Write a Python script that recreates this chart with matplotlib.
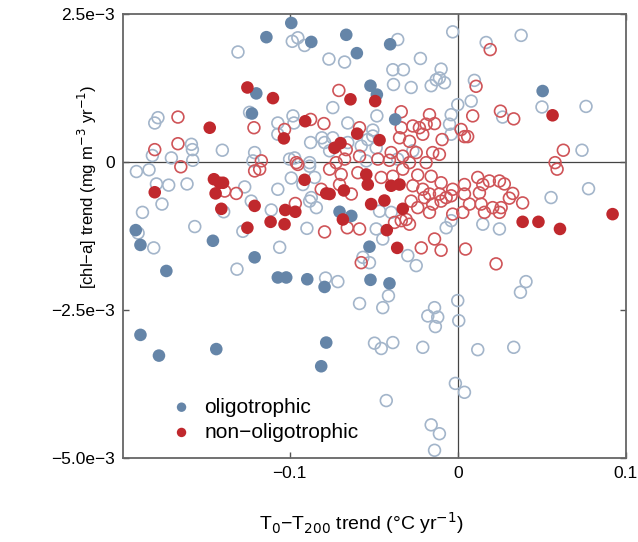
import numpy as np
import matplotlib.pyplot as plt

plt.rcParams['font.family'] = ['Liberation Sans', 'DejaVu Sans']

# oligotrophic, filled (significant) points: x = T0-T200 trend, y = chl-a trend (x1e-3)
olig_fill_x = [-0.0990, -0.1138, -0.0871, -0.0663, -0.0600, -0.1198, -0.1224, -0.0519, -0.0402,
               -0.0481, -0.0372, 0.0505, -0.1915, -0.1887, -0.1456, -0.1733, -0.1208, -0.0703,
               -0.0633, -0.0525, -0.1070, -0.1020, -0.0895, -0.0792, -0.0519, -0.0406, -0.1887,
               -0.1777, -0.1436, -0.0782, -0.0812]
olig_fill_y = [2.35, 2.11, 2.03, 2.15, 1.84, 1.16, 0.82, 1.29, 1.99,
               1.14, 0.72, 1.20, -1.15, -1.40, -1.33, -1.84, -1.61, -0.84,
               -0.91, -1.43, -1.95, -1.95, -1.98, -2.11, -1.99, -2.05, -2.92,
               -3.27, -3.16, -3.05, -3.45]

# oligotrophic, open points
olig_open_x = [-0.1307, -0.1783, -0.1802, -0.1584, -0.1578, -0.1400, -0.1703, -0.1816, -0.1576,
               -0.0984, -0.0951, -0.0911, -0.0766, -0.0673, -0.0743, -0.1238, -0.1070, -0.0980,
               -0.0974, -0.0654, -0.1070, -0.0505, -0.0875, -0.0808, -0.0792, -0.0743, -0.0762,
               -0.0654, -0.0574, -0.0535, -0.1208, -0.1218, -0.1000, -0.0970, -0.0881, -0.0544,
               -0.0357, -0.0030, 0.0169, -0.0222, -0.0386, -0.0323, -0.0099, -0.0382, -0.0277,
               -0.0158, -0.0128, -0.0109, -0.0079, 0.0099, 0.0000, 0.0080, -0.0481, -0.0039,
               -0.0049, -0.0039, -0.0505, -0.0485, -0.0267, -0.0357, 0.0377, 0.0501, 0.0763,
               0.0267, 0.0739, -0.1911, -0.1836, -0.1792, -0.1719, -0.1610, -0.1759, -0.1875,
               -0.1267, -0.1392, -0.1901, -0.1808, -0.1564, -0.1313, -0.1278, -0.0881, -0.0990,
               -0.0851, -0.1070, -0.0921, -0.1228, -0.1109, -0.0881, -0.0841, -0.0871, -0.0897,
               -0.1059, -0.0564, -0.0525, -0.0786, -0.0713, -0.0584, -0.0465, -0.0396, -0.0485,
               -0.0446, 0.0149, -0.0297, -0.0247, -0.0069, -0.0039, -0.0412, -0.0446, -0.0138,
               0.0000, -0.0178, -0.0119, 0.0555, 0.0778, 0.0248, 0.0406, 0.0373, -0.0133,
               0.0006, -0.0495, -0.0455, -0.0386, -0.0208, 0.0119, -0.0014, 0.0040, -0.0425,
               -0.0158, -0.0109, -0.0138, 0.0333]
olig_open_y = [1.86, 0.75, 0.66, 0.30, 0.21, 0.20, 0.07, 0.11, 0.03,
               2.04, 2.10, 1.97, 1.74, 1.69, 0.92, 0.84, 0.66, 0.78,
               0.66, 0.66, 0.47, 0.54, 0.33, 0.41, 0.33, 0.41, 0.19,
               0.33, 0.27, 0.38, 0.16, 0.02, 0.05, 0.07, -0.01, 0.02,
               2.07, 2.20, 2.02, 1.75, 1.56, 1.56, 1.57, 1.31, 1.26,
               1.29, 1.39, 1.42, 1.34, 1.38, 0.97, 1.03, 0.78, 0.80,
               0.64, 0.47, 0.44, 0.24, 0.19, 0.05, 2.14, 0.93, 0.94,
               0.76, 0.20, -0.16, -0.13, -0.37, -0.39, -0.37, -0.71, -0.85,
               -0.42, -0.84, -1.20, -1.45, -1.09, -1.81, -1.17, -0.07, -0.27,
               -0.26, -0.46, -0.38, -0.66, -0.81, -0.66, -0.77, -0.60, -1.12,
               -1.44, -1.61, -1.70, -1.96, -2.02, -2.39, -0.83, -0.85, -1.13,
               -1.30, -1.05, -1.58, -1.75, -1.11, -0.99, -2.26, -2.46, -2.46,
               -2.34, -2.60, -2.62, -0.60, -0.45, -1.13, -2.02, -2.20, -2.78,
               -2.68, -3.06, -3.15, -3.05, -3.13, -3.17, -3.74, -3.89, -4.03,
               -4.44, -4.59, -4.87, -3.13]

# non-oligotrophic, filled points
non_fill_x = [-0.1251, -0.1475, -0.1099, -0.0638, -0.0491, -0.0907, -0.1034, -0.0598, -0.0733,
              -0.0697, -0.0465, 0.0564, -0.1802, -0.1450, -0.1416, -0.1396, -0.1440, -0.1406,
              -0.1251, -0.0911, -0.0782, -0.0762, -0.0677, -0.0544, -0.0535, -0.1208, -0.1026,
              -0.0966, -0.0683, -0.0515, -0.1113, -0.1030, -0.0396, -0.0346, -0.0436, -0.0327,
              -0.0422, -0.0360, 0.0386, 0.0480, 0.0608, 0.0921]
non_fill_y = [1.26, 0.58, 1.08, 1.06, 1.03, 0.69, 0.40, 0.48, 0.24,
              0.32, 0.37, 0.79, -0.51, -0.29, -0.35, -0.35, -0.53, -0.79,
              -1.11, -0.30, -0.53, -0.54, -0.48, -0.21, -0.38, -0.74, -0.81,
              -0.84, -0.97, -0.71, -1.01, -1.05, -0.40, -0.38, -0.65, -0.79,
              -1.15, -1.45, -1.01, -1.01, -1.13, -0.88]

# non-oligotrophic, open points
non_open_x = [-0.1664, -0.1664, -0.1802, -0.1647, -0.0707, -0.1212, -0.0875, -0.0796, -0.1030,
              -0.0584, -0.0663, -0.1168, -0.0960, -0.0723, -0.0673, -0.0584, 0.0193, 0.0109,
              -0.0336, -0.0168, 0.0089, -0.0336, -0.0267, -0.0228, -0.0188, -0.0138, 0.0020,
              0.0040, 0.0059, -0.0208, -0.0093, -0.0346, -0.0287, -0.0247, -0.0149, -0.0109,
              -0.0396, -0.0327, -0.0475, -0.0406, -0.0287, -0.0188, 0.0254, 0.0333, 0.0628,
              0.0579, -0.1386, -0.1317, -0.1208, -0.1178, -0.0951, -0.0812, -0.0703, -0.0633,
              -0.0594, -0.0693, -0.0762, -0.0966, -0.0657, -0.0584, -0.0792, -0.0574, -0.0327,
              -0.0238, -0.0158, -0.0099, -0.0455, -0.0386, -0.0267, -0.0208, -0.0168, -0.0109,
              -0.0030, 0.0040, 0.0040, 0.0119, 0.0149, 0.0188, 0.0129, 0.0070, 0.0139,
              0.0159, 0.0208, -0.0277, -0.0238, -0.0168, -0.0099, -0.0039, -0.0307, -0.0287,
              -0.0376, -0.0336, -0.0030, 0.0030, -0.0069, -0.0198, -0.0149, -0.0217, -0.0138,
              -0.0099, 0.0046, 0.0228, 0.0591, 0.0248, 0.0277, 0.0327, 0.0307, 0.0386,
              0.0258, 0.0248]
non_open_y = [0.76, 0.31, 0.21, -0.08, 1.21, 0.58, 0.72, 0.65, 0.55,
              0.58, 0.21, 0.02, -0.01, -0.01, 0.05, 0.10, 1.90, 1.28,
              0.85, 0.80, 0.78, 0.58, 0.61, 0.58, 0.64, 0.65, 0.55,
              0.43, 0.43, 0.47, 0.38, 0.41, 0.35, 0.16, 0.16, 0.13,
              0.16, 0.10, 0.05, 0.03, -0.01, -0.01, 0.86, 0.73, 0.20,
              -0.01, -0.49, -0.53, -0.15, -0.12, -0.04, -0.46, -0.38, -0.54,
              -0.18, -0.21, -0.12, -0.70, -1.11, -1.13, -1.18, -1.70, -0.12,
              -0.22, -0.24, -0.35, -0.26, -0.24, -0.40, -0.46, -0.54, -0.54,
              -0.46, -0.38, -0.54, -0.26, -0.38, -0.32, -0.52, -0.71, -0.71,
              -0.85, -0.77, -0.66, -0.77, -0.85, -0.66, -0.57, -0.97, -1.05,
              -1.02, -0.99, -0.88, -0.85, -0.60, -0.60, -0.71, -1.45, -1.30,
              -1.49, -1.47, -1.72, -0.12, -0.32, -0.37, -0.53, -0.61, -0.69,
              -0.77, -0.85]

scale = 1e-3

blue_fill = '#6585a8'
blue_open = '#a3b5ca'
red_fill = '#c0282d'
red_open = '#cf5458'

fig = plt.figure(figsize=(6.38, 5.42), dpi=100)
ax = fig.add_axes([0.193, 0.155, 0.788, 0.819])

ax.axhline(0, color='#444444', lw=0.9, zorder=1)
ax.axvline(0, color='#444444', lw=0.9, zorder=1)

ax.scatter(olig_open_x, np.array(olig_open_y) * scale, s=72, facecolors='none',
           edgecolors=blue_open, linewidths=1.2, zorder=2)
ax.scatter(non_open_x, np.array(non_open_y) * scale, s=72, facecolors='none',
           edgecolors=red_open, linewidths=1.2, zorder=2)
ax.scatter(olig_fill_x, np.array(olig_fill_y) * scale, s=82, color=blue_fill,
           edgecolors='none', zorder=3, label='oligotrophic')
ax.scatter(non_fill_x, np.array(non_fill_y) * scale, s=82, color=red_fill,
           edgecolors='none', zorder=3, label='non\u2212oligotrophic')

ax.set_xlim(-0.199, 0.1)
ax.set_ylim(-5e-3, 2.5e-3)
ax.set_xticks([-0.1, 0, 0.1])
ax.set_xticklabels(['\u22120.1', '0', '0.1'])
ax.set_yticks([2.5e-3, 0, -2.5e-3, -5e-3])
ax.set_yticklabels(['2.5e\u22123', '0', '\u22122.5e\u22123', '\u22125.0e\u22123'])
ax.tick_params(direction='in', length=4, width=1, color='#555555', labelsize=12.5,
               top=True, right=True, labeltop=False, labelright=False, pad=6)
for sp in ax.spines.values():
    sp.set_color('#666666')
    sp.set_linewidth(1.3)

ax.set_xlabel('T$_0$\u2212T$_{200}$ trend (\u00b0C yr$^{-1}$)', fontsize=14)
ax.xaxis.set_label_coords(0.475, -0.118)
ax.set_ylabel('[chl\u2212a] trend (mg m$^{-3}$ yr$^{-1}$)', fontsize=12)
ax.yaxis.set_label_coords(-0.048, 0.61)

leg = ax.legend(loc='lower left', bbox_to_anchor=(0.054, -0.006), frameon=False,
                fontsize=15, markerscale=0.75, handletextpad=0.5, labelspacing=0.3,
                handlelength=1.2)

fig.savefig('out.png', dpi=100)
